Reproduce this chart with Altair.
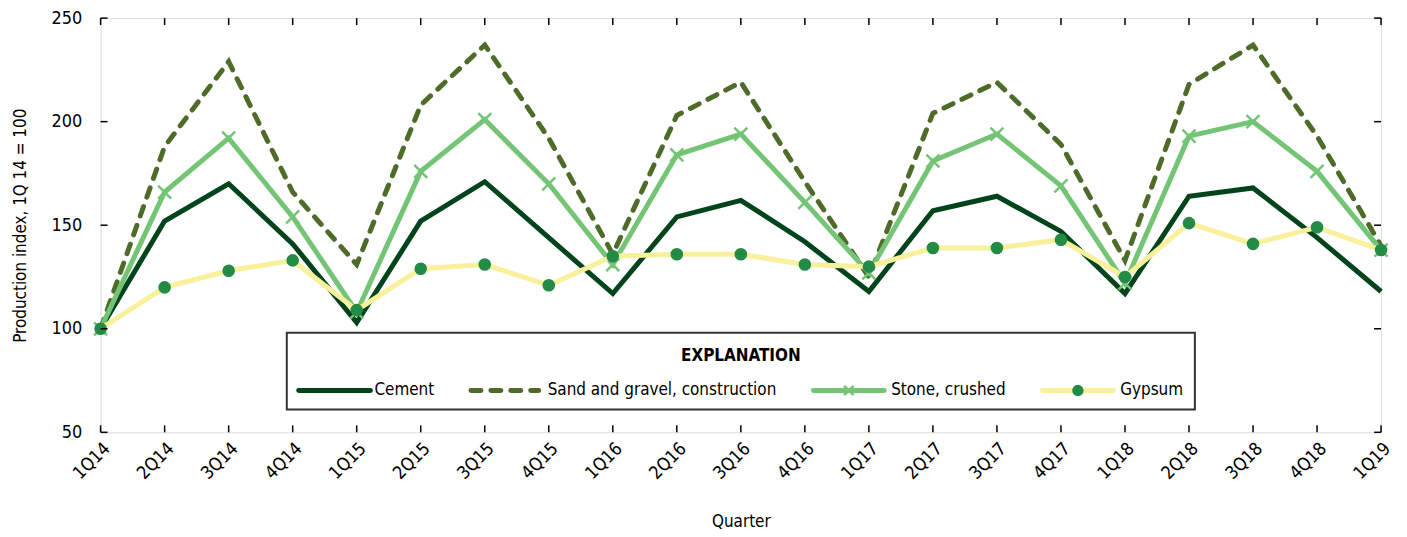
import altair as alt
import pandas as pd

quarters = ["1Q14", "2Q14", "3Q14", "4Q14", "1Q15", "2Q15", "3Q15", "4Q15",
            "1Q16", "2Q16", "3Q16", "4Q16", "1Q17", "2Q17", "3Q17", "4Q17",
            "1Q18", "2Q18", "3Q18", "4Q18", "1Q19"]
cement = [100, 152, 170, 141, 103, 152, 171, 144, 117, 154, 162, 142, 118, 157, 164, 147, 117, 164, 168, 144, 118]
sand = [100, 188, 229, 166, 131, 208, 237, 192, 136, 203, 219, 171, 125, 204, 219, 189, 133, 218, 237, 193, 140]
stone = [100, 166, 192, 154, 108, 176, 201, 170, 131, 184, 194, 161, 127, 181, 194, 169, 122, 193, 200, 176, 138]
gypsum = [100, 120, 128, 133, 109, 129, 131, 121, 135, 136, 136, 131, 130, 139, 139, 143, 125, 151, 141, 149, 138]
series_names = ["Cement", "Sand and gravel, construction", "Stone, crushed", "Gypsum"]
y_ticks = [50, 100, 150, 200, 250]

FONT = "DejaVu Sans Condensed, Liberation Sans, sans-serif"
C_CEMENT = "#00441B"
C_SAND = "#4E6B2A"
C_STONE = "#74C476"
C_GYPSUM = "#F8F09A"
C_DOT = "#238B45"
X_SHAPE = "M-1,-1L1,1M-1,1L1,-1"

W, H = 1286, 416

rows = []
for name, vals in zip(series_names, [cement, sand, stone, gypsum]):
    for q, v in zip(quarters, vals):
        rows.append({"quarter": q, "series": name, "value": v})
df = pd.DataFrame(rows)

xenc = alt.X("quarter:N", sort=quarters,
             scale=alt.Scale(type="point", padding=0, domain=quarters),
             axis=alt.Axis(title="Quarter", labelAngle=-45, ticks=False, domain=False,
                           labelPadding=7, labelFontSize=18, titleFontSize=17,
                           titleFontWeight="normal", titleY=90, titleBaseline="middle",
                           labelFont=FONT, titleFont=FONT, labelColor="black",
                           titleColor="black"))
yenc = alt.Y("value:Q",
             scale=alt.Scale(domain=[50, 250], nice=False, zero=False),
             axis=alt.Axis(values=y_ticks, title="Production index, 1Q 14 = 100",
                           ticks=False, domain=False, grid=False, labelPadding=19,
                           labelFontSize=18, titleFontSize=17, titleFontWeight="normal",
                           titlePadding=22, labelFont=FONT, titleFont=FONT,
                           labelColor="black", titleColor="black"))

base = alt.Chart(df).encode(x=xenc, y=yenc)

def sel(name):
    return base.transform_filter(alt.datum.series == name)

cement_l = sel("Cement").mark_line(color=C_CEMENT, strokeWidth=5)
sand_l = sel("Sand and gravel, construction").mark_line(
    color=C_SAND, strokeWidth=5, strokeDash=[10, 10], strokeCap="round")
stone_l = sel("Stone, crushed").mark_line(color=C_STONE, strokeWidth=5)
stone_p = sel("Stone, crushed").mark_point(shape=X_SHAPE, filled=False, size=170,
                                           strokeWidth=2.5, color=C_STONE, opacity=1)
gyp_l = sel("Gypsum").mark_line(color=C_GYPSUM, strokeWidth=5)
gyp_p = sel("Gypsum").mark_circle(size=160, color=C_DOT, opacity=1)

# inward ticks on all four sides
qdf = pd.DataFrame({"quarter": quarters})
ydf = pd.DataFrame({"value": y_ticks})
tick_top = alt.Chart(qdf).mark_rule(color="black", strokeWidth=1.5).encode(
    x=xenc, y=alt.value(0), y2=alt.value(7))
tick_bot = alt.Chart(qdf).mark_rule(color="black", strokeWidth=1.5).encode(
    x=xenc, y=alt.value(H), y2=alt.value(H - 7))
tick_left = alt.Chart(ydf).mark_rule(color="black", strokeWidth=1.5).encode(
    y=yenc, x=alt.value(0), x2=alt.value(7))
tick_right = alt.Chart(ydf).mark_rule(color="black", strokeWidth=1.5).encode(
    y=yenc, x=alt.value(W), x2=alt.value(W - 7))

# legend ("EXPLANATION" box)
one = qdf.head(1)
box = alt.Chart(one).mark_rect(fill="white", stroke="#333333", strokeWidth=2).encode(
    x=alt.value(187), x2=alt.value(1099), y=alt.value(316), y2=alt.value(393))
title = alt.Chart(one).mark_text(
    text="EXPLANATION", font=FONT, fontSize=17, fontWeight="bold", color="black",
    align="center", baseline="middle").encode(x=alt.value(643), y=alt.value(339))

LEG_Y = 374
leg_layout = {  # x0, x1 of symbol line, x of label
    "Cement": (199, 271, 275),
    "Sand and gravel, construction": (372, 440, 449),
    "Stone, crushed": (716, 787, 794),
    "Gypsum": (946, 1017, 1024),
}
leg_styles = {
    "Cement": dict(color=C_CEMENT, strokeWidth=5, strokeCap="round"),
    "Sand and gravel, construction": dict(color=C_SAND, strokeWidth=5, strokeDash=[10, 10], strokeCap="round"),
    "Stone, crushed": dict(color=C_STONE, strokeWidth=5, strokeCap="round"),
    "Gypsum": dict(color=C_GYPSUM, strokeWidth=5, strokeCap="round"),
}
leg_layers = []
for name in series_names:
    x0, x1, xl = leg_layout[name]
    leg_layers.append(alt.Chart(one).mark_rule(**leg_styles[name]).encode(
        x=alt.value(x0), x2=alt.value(x1), y=alt.value(LEG_Y)))
    leg_layers.append(alt.Chart(one).mark_text(
        text=name, font=FONT, fontSize=17, color="black", align="left",
        baseline="middle").encode(x=alt.value(xl), y=alt.value(LEG_Y)))
mid_stone = sum(leg_layout["Stone, crushed"][:2]) / 2
mid_gyp = sum(leg_layout["Gypsum"][:2]) / 2
leg_layers.append(alt.Chart(one).mark_point(shape=X_SHAPE, filled=False, size=90,
                                            strokeWidth=2.5, color=C_STONE, opacity=1).encode(
    x=alt.value(mid_stone), y=alt.value(LEG_Y)))
leg_layers.append(alt.Chart(one).mark_circle(size=130, color=C_DOT, opacity=1).encode(
    x=alt.value(mid_gyp), y=alt.value(LEG_Y)))

chart = alt.layer(
    cement_l, sand_l, stone_l, stone_p, gyp_l, gyp_p,
    tick_top, tick_bot, tick_left, tick_right,
    box, title, *leg_layers
).properties(
    width=W, height=H,
    autosize=alt.AutoSizeParams(type="none"),
    padding={"left": 93, "top": 9, "right": 18, "bottom": 104},
).configure_view(stroke="black", strokeWidth=2).configure(background="white")

chart.save("out.html", embed_options={"renderer": "svg", "actions": False})
